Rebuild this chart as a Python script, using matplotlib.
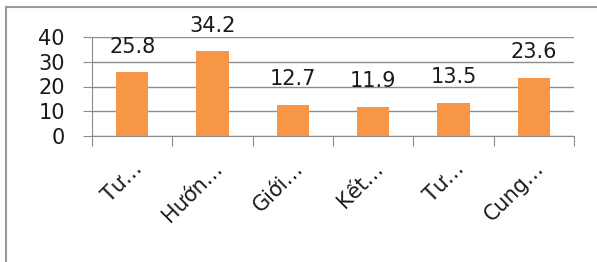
"""Bar chart of six categories with value labels (Excel-style)."""

import matplotlib
matplotlib.use("Agg")
import matplotlib.pyplot as plt
from matplotlib.lines import Line2D

categories = ["Tư…", "Hướn…", "Giới…", "Kết…", "Tư…", "Cung…"]
values = [25.8, 34.2, 12.7, 11.9, 13.5, 23.6]
y_ticks = [0, 10, 20, 30, 40]

BAR_COLOR = "#F79646"
GRID_COLOR = "#8C8C8C"
FS = 15

plt.rcParams["font.family"] = ["DejaVu Sans"]

fig = plt.figure(figsize=(5.97, 2.62), dpi=100)
ax = fig.add_axes([92 / 597, 1 - 136 / 262, (574 - 92) / 597, (136 - 37) / 262])

x = list(range(len(categories)))
ax.bar(x, values, width=0.4, color=BAR_COLOR, zorder=3)

for xi, v in zip(x, values):
    ax.annotate(f"{v}", (xi, v), xytext=(0, 11), textcoords="offset points",
                ha="center", va="bottom", fontsize=FS, color="#1a1a1a")

ax.set_xlim(-0.5, len(categories) - 0.5)
ax.set_ylim(0, 40)
ax.set_yticks(y_ticks)
ax.set_yticklabels([str(t) for t in y_ticks], fontsize=FS, color="#1a1a1a")
ax.tick_params(axis="y", length=6.5, color=GRID_COLOR, pad=13)

# category boundaries as x ticks, labels centred on bars
ax.set_xticks([i - 0.5 for i in range(len(categories) + 1)])
ax.set_xticklabels([])
ax.tick_params(axis="x", length=7, color=GRID_COLOR)
ax.set_xticks(x, minor=True)
ax.set_xticklabels(categories, minor=True, rotation=45, ha="right",
                   rotation_mode="anchor", fontsize=FS, color="#1a1a1a")
ax.tick_params(axis="x", which="minor", length=0, pad=16)

ax.grid(axis="y", color=GRID_COLOR, linewidth=1, zorder=0)
for side in ["top", "right"]:
    ax.spines[side].set_visible(False)
for side in ["left", "bottom"]:
    ax.spines[side].set_color(GRID_COLOR)

# outer chart frame (left and top edges)
fig.add_artist(Line2D([6 / 597, 6 / 597], [0, 1 - 7 / 262],
                      color="#9A9A9A", linewidth=1.5, transform=fig.transFigure))
fig.add_artist(Line2D([6 / 597, 1], [1 - 7 / 262, 1 - 7 / 262],
                      color="#9A9A9A", linewidth=1.5, transform=fig.transFigure))

fig.savefig("out.png", dpi=100)
